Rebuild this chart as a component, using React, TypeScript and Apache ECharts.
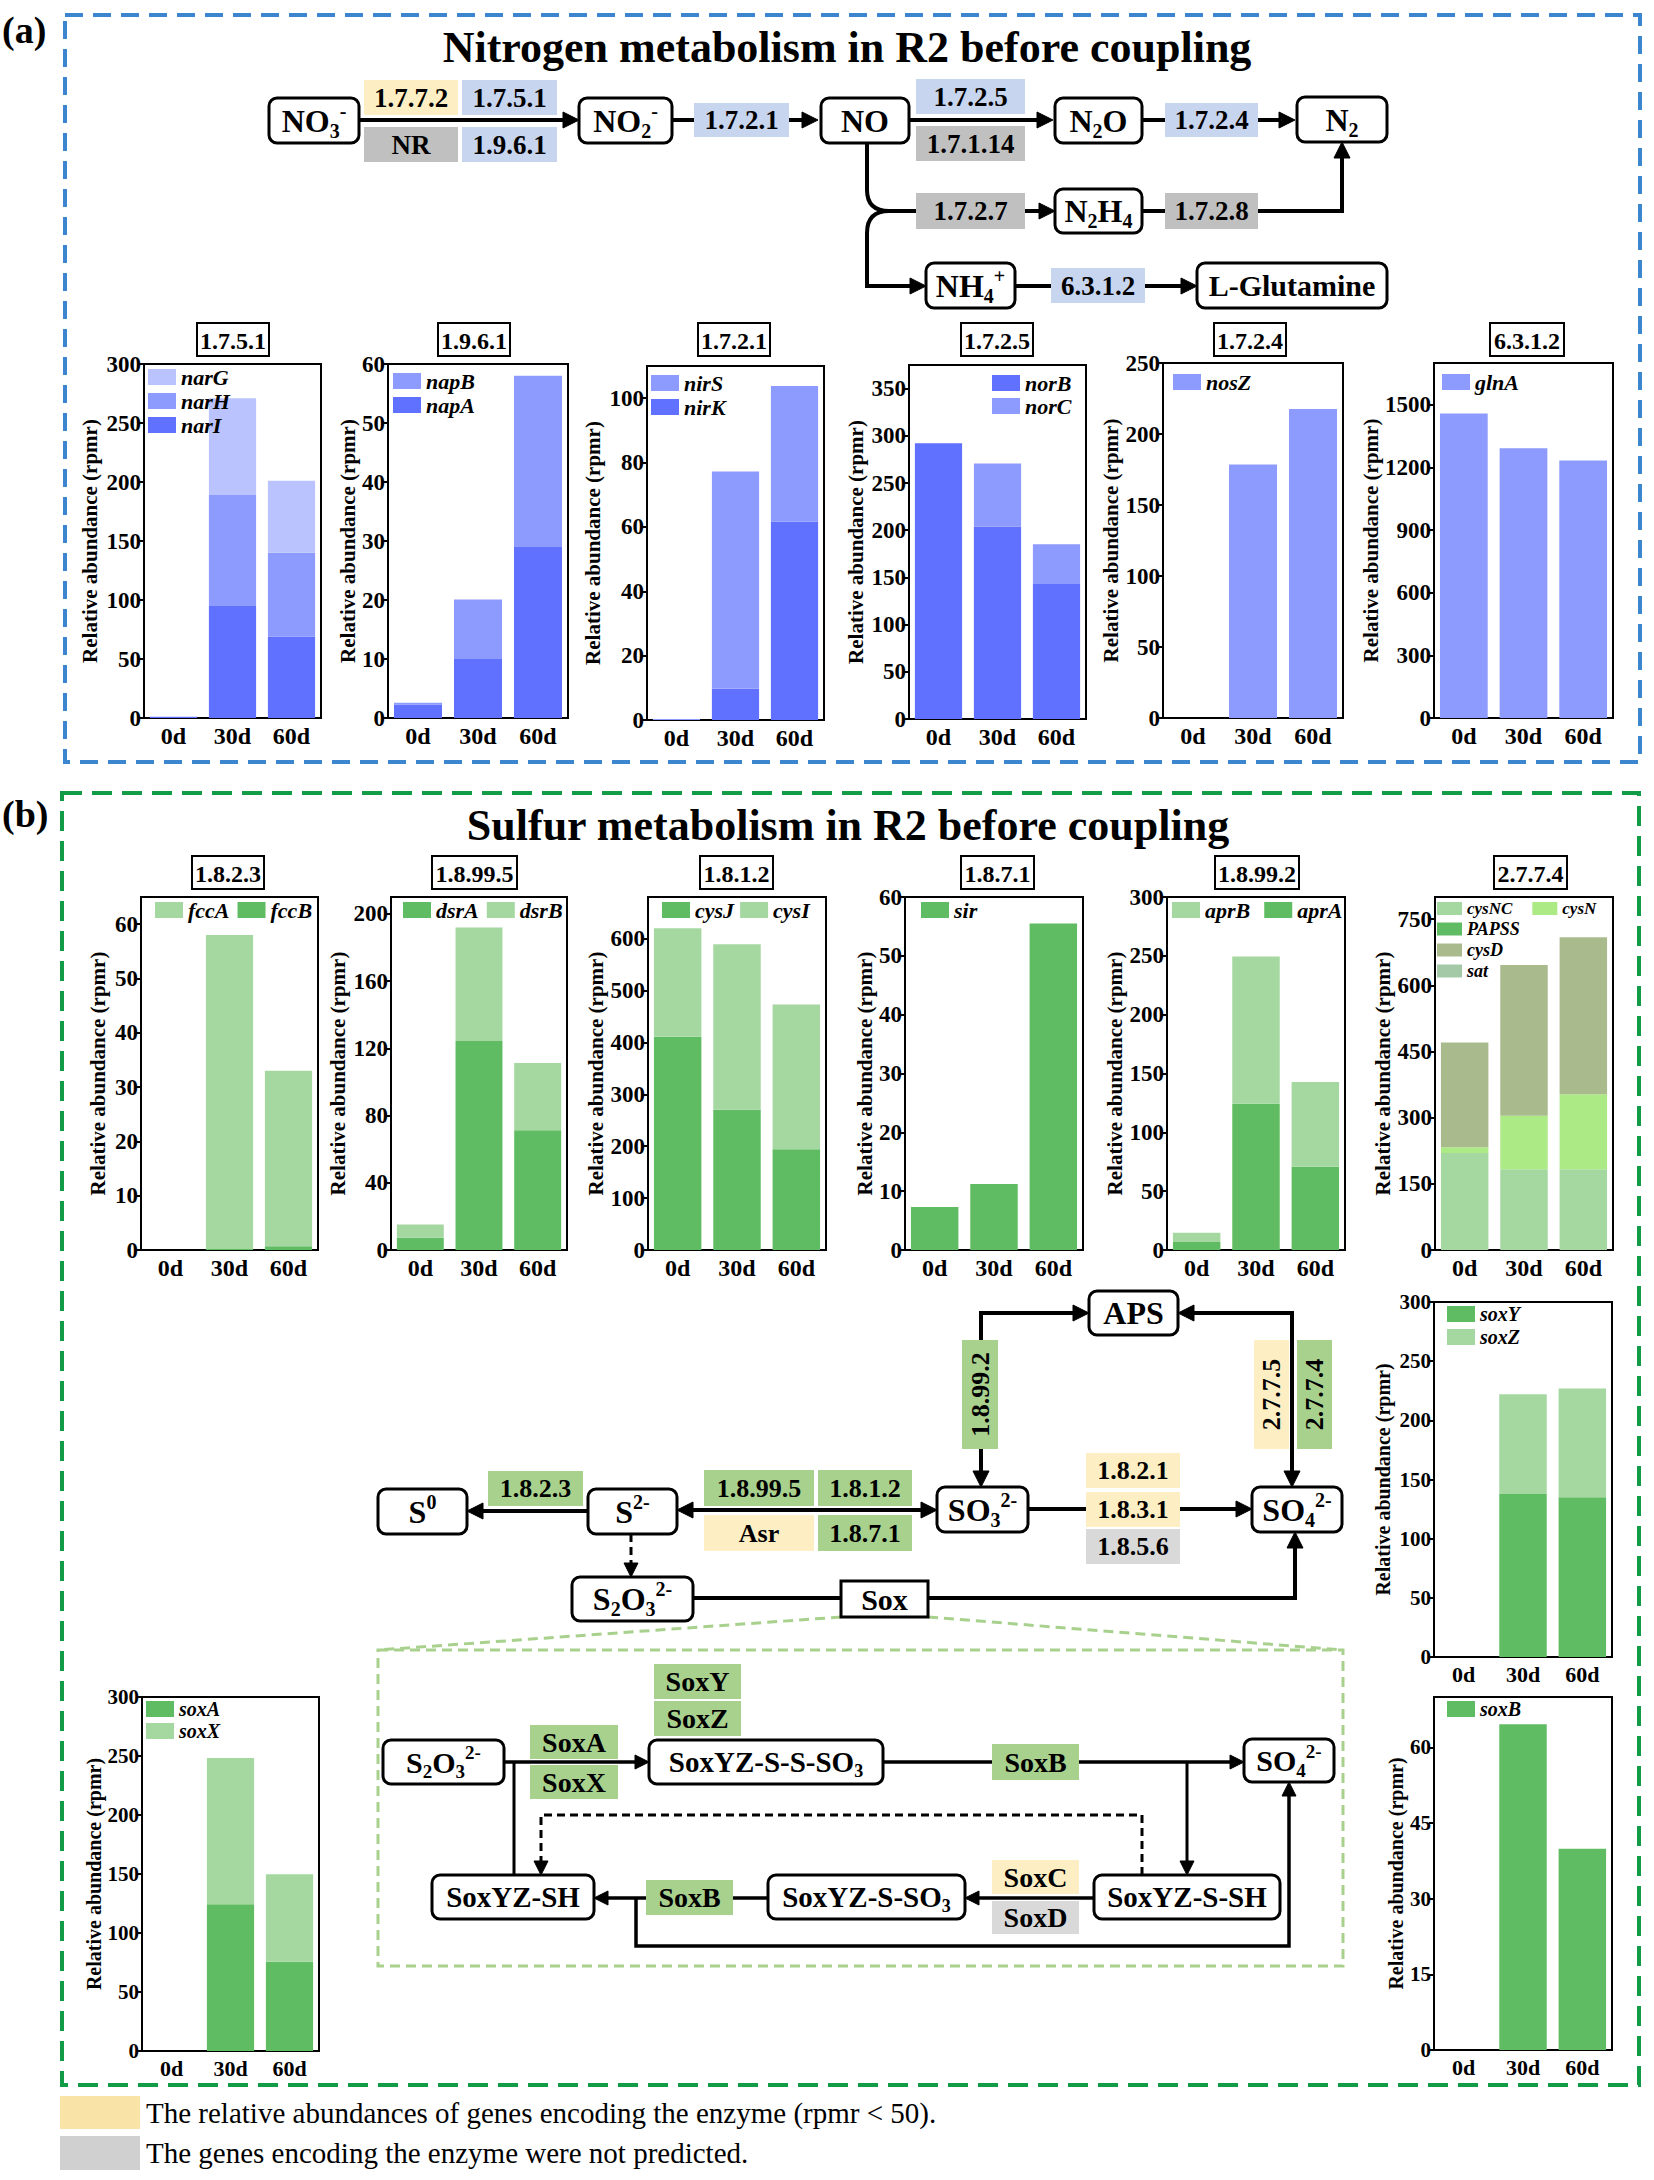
import React, { useEffect, useRef } from 'react';
import * as echarts from 'echarts';

const SERIF = "'Liberation Serif', 'Times New Roman', Times, serif";

// ---------- data ----------
const DAYS = ['0d', '30d', '60d'];
const Y_NAME = 'Relative abundance (rpmr)';

// Nitrogen
const narG = [0, 82, 61];
const narH = [0, 94, 71];
const narI = [1, 95, 69];
const napB = [0.3, 10.1, 29];
const napA = [2.3, 10, 29];
const nirS = [0.3, 67.5, 42.1];
const nirK = [0, 9.7, 61.7];
const norB = [292, 204, 143];
const norC = [0, 66.7, 42];
const nosZ = [0, 178.6, 217.6];
const glnA = [1458, 1292, 1233];
// Sulfur
const fccA = [0, 57.8, 32.3];
const fccB = [0, 0.2, 0.7];
const dsrA = [7.3, 124.3, 71.3];
const dsrB = [7.9, 67.6, 40];
const cysJ = [411, 270, 194];
const cysI = [209, 319, 279];
const sir = [7.3, 11.2, 55.5];
const aprA = [6.8, 124.3, 70.8];
const aprB = [7.9, 125.1, 71.9];
const cysNC = [220, 183, 183];
const cysN = [13, 121, 170];
const PAPSS = [0, 0, 0];
const cysD = [237, 342, 356];
const sat = [0, 0, 0];
const soxY = [0, 137.7, 135];
const soxZ = [0, 84.3, 92];
const soxB = [0, 64.6, 39.9];
const soxA = [0, 124.4, 75.7];
const soxX = [0, 123.8, 74.1];

// ---------- colours ----------
const BD = '#5f71fe', BM = '#8e9bfe', BL = '#bac3fe';
const GD = '#5fbc62', GL = '#a5d8a1', YG = '#acea85', OL = '#a9bb8d', SAT = '#a4c9a7';
const E_BLUE = '#c8d5ef', E_YEL = '#fdefc3', E_GRAY = '#c0c0c0', E_GREEN = '#a9d18e', E_GRAY2 = '#d9d9d9';

// ---------- panel layout ----------
const PANELS: any[] = [
  { t: '1.7.5.1', tb: [197, 323, 269, 356], g: [144, 364, 177, 354], max: 300, iv: 50, gap: 44,
    s: [['narI', narI, BD], ['narH', narH, BM], ['narG', narG, BL]], lg: [{ d: ['narG', 'narH', 'narI'], l: 148, t: 366, gap: 2 }] },
  { t: '1.9.6.1', tb: [438, 323, 510, 356], g: [388, 364, 180, 354], max: 60, iv: 10, gap: 28,
    s: [['napA', napA, BD], ['napB', napB, BM]], lg: [{ d: ['napB', 'napA'], l: 393, t: 370, gap: 2 }] },
  { t: '1.7.2.1', tb: [698, 323, 770, 356], g: [647, 366, 177, 354], max: 110, iv: 20, gap: 44,
    s: [['nirK', nirK, BD], ['nirS', nirS, BM]], lg: [{ d: ['nirS', 'nirK'], l: 651, t: 372, gap: 2 }] },
  { t: '1.7.2.5', tb: [961, 323, 1033, 356], g: [909, 365, 177, 354], max: 375, iv: 50, gap: 43,
    s: [['norB', norB, BD], ['norC', norC, BM]], lg: [{ d: ['norB', 'norC'], l: 992, t: 372, gap: 1 }] },
  { t: '1.7.2.4', tb: [1214, 323, 1286, 356], g: [1163, 363, 180, 355], max: 250, iv: 50, gap: 40,
    s: [['nosZ', nosZ, BM]], lg: [{ d: ['nosZ'], l: 1173, t: 371 }] },
  { t: '6.3.1.2', tb: [1490, 323, 1564, 356], g: [1434, 363, 179, 355], max: 1700, iv: 300, gap: 52,
    s: [['glnA', glnA, BM]], lg: [{ d: ['glnA'], l: 1442, t: 371 }] },

  { t: '1.8.2.3', tb: [192, 856, 264, 889], g: [141, 897, 177, 353], max: 65, iv: 10, gap: 33,
    s: [['fccB', fccB, GD], ['fccA', fccA, GL]], lg: [{ d: ['fccA', 'fccB'], l: 155, t: 899, h: true, gap: 8 }] },
  { t: '1.8.99.5', tb: [432, 856, 517, 889], g: [391, 897, 176, 353], max: 210, iv: 40, gap: 43,
    s: [['dsrA', dsrA, GD], ['dsrB', dsrB, GL]], lg: [{ d: ['dsrA', 'dsrB'], l: 403, t: 899, h: true, gap: 8 }] },
  { t: '1.8.1.2', tb: [700, 856, 773, 889], g: [648, 897, 178, 353], max: 680, iv: 100, gap: 42,
    s: [['cysJ', cysJ, GD], ['cysI', cysI, GL]], lg: [{ d: ['cysJ', 'cysI'], l: 662, t: 899, h: true, gap: 6 }] },
  { t: '1.8.7.1', tb: [961, 856, 1034, 889], g: [905, 897, 178, 353], max: 60, iv: 10, gap: 28,
    s: [['sir', sir, GD]], lg: [{ d: ['sir'], l: 921, t: 899 }] },
  { t: '1.8.99.2', tb: [1215, 856, 1299, 889], g: [1167, 897, 178, 353], max: 300, iv: 50, gap: 41,
    s: [['aprA', aprA, GD], ['aprB', aprB, GL]], lg: [{ d: ['aprB', 'aprA'], l: 1172, t: 899, h: true, gap: 14 }] },
  { t: '2.7.7.4', tb: [1494, 856, 1567, 889], g: [1435, 897, 178, 353], max: 800, iv: 150, gap: 42,
    s: [['cysNC', cysNC, GL], ['cysN', cysN, YG], ['PAPSS', PAPSS, GD], ['cysD', cysD, OL], ['sat', sat, SAT]],
    lg: [{ d: ['cysNC', 'cysN'], l: 1437, t: 900, h: true, fs: 17, iw: 25, ih: 13, gap: 20 },
         { d: ['PAPSS', 'cysD', 'sat'], l: 1437, t: 920, fs: 18, iw: 25, ih: 13, gap: 3 }] },

  { t: null, g: [1434, 1302, 178, 355], max: 300, iv: 50, gap: 41, small: true,
    s: [['soxY', soxY, GD], ['soxZ', soxZ, GL]], lg: [{ d: ['soxY', 'soxZ'], l: 1447, t: 1304, fs: 20, gap: 3 }] },
  { t: null, g: [1434, 1697, 178, 353], max: 70, iv: 15, gap: 24, small: true,
    s: [['soxB', soxB, GD]], lg: [{ d: ['soxB'], l: 1447, t: 1699, fs: 20 }] },
  { t: null, g: [142, 1697, 177, 354], max: 300, iv: 50, gap: 37, small: true,
    s: [['soxA', soxA, GD], ['soxX', soxX, GL]], lg: [{ d: ['soxA', 'soxX'], l: 146, t: 1699, fs: 20, gap: 2 }] },
];

// ---------- helpers for the diagram ----------
function chem(src: string, size: number) {
  let out = '';
  let buf = '';
  let i = 0;
  const flush = () => { if (buf) { out += `{n|${buf}}`; buf = ''; } };
  while (i < src.length) {
    const c = src[i];
    if (c === '_' || c === '^') {
      flush();
      let tok = '';
      if (src[i + 1] === '{') { const j = src.indexOf('}', i + 2); tok = src.slice(i + 2, j); i = j + 1; }
      else { tok = src[i + 1]; i += 2; }
      out += `{${c === '_' ? 'b' : 'p'}|${tok}}`;
    } else { buf += c; i++; }
  }
  flush();
  const base = { fontFamily: SERIF, fontWeight: 'bold', fill: '#000', color: '#000' };
  const sm = Math.round(size * 0.62);
  return {
    text: out,
    rich: {
      n: { ...base, fontSize: size, lineHeight: Math.round(size * 1.25) },
      b: { ...base, fontSize: sm, lineHeight: sm, verticalAlign: 'bottom' },
      p: { ...base, fontSize: sm, lineHeight: sm, verticalAlign: 'top' },
    },
  };
}

function buildGraphics() {
  const els: any[] = [];
  const line = (pts: number[][], w = 4, dash?: number[], color = '#000') =>
    els.push({ type: 'polyline', silent: true, shape: { points: pts },
      style: { stroke: color, lineWidth: w, fill: 'none', ...(dash ? { lineDash: dash } : {}) } });
  const curve = (x1: number, y1: number, cx: number, cy: number, x2: number, y2: number, w = 4) =>
    els.push({ type: 'bezierCurve', silent: true, shape: { x1, y1, cpx1: cx, cpy1: cy, x2, y2 },
      style: { stroke: '#000', lineWidth: w, fill: 'none' } });
  const arrow = (x: number, y: number, dir: string, len = 16, hw = 8) => {
    let pts: number[][] = [];
    if (dir === 'r') pts = [[x, y], [x - len, y - hw], [x - len, y + hw]];
    if (dir === 'l') pts = [[x, y], [x + len, y - hw], [x + len, y + hw]];
    if (dir === 'd') pts = [[x, y], [x - hw, y - len], [x + hw, y - len]];
    if (dir === 'u') pts = [[x, y], [x - hw, y + len], [x + hw, y + len]];
    els.push({ type: 'polygon', silent: true, shape: { points: pts }, style: { fill: '#000', stroke: '#000', lineWidth: 1 } });
  };
  const rect = (x1: number, y1: number, x2: number, y2: number, fill: string, stroke = 'none', lw = 0, r = 0, dash?: number[]) =>
    els.push({ type: 'rect', silent: true, shape: { x: x1, y: y1, width: x2 - x1, height: y2 - y1, r },
      style: { fill, stroke, lineWidth: lw, ...(dash ? { lineDash: dash } : {}) } });
  const text = (x: number, y: number, str: string, size: number, o: any = {}) =>
    els.push({ type: 'text', silent: true, x, y, rotation: o.rot || 0,
      style: { text: str, fontSize: size, fontFamily: SERIF, fontWeight: o.weight || 'bold', fill: '#000',
        align: o.align || 'center', verticalAlign: 'middle' } });
  const node = (x1: number, y1: number, x2: number, y2: number, src: string, size = 32, square = false) => {
    rect(x1, y1, x2, y2, '#fff', '#000', 3, square ? 0 : 8);
    const c = chem(src, size);
    els.push({ type: 'text', silent: true, x: (x1 + x2) / 2, y: (y1 + y2) / 2,
      style: { text: c.text, rich: c.rich, align: 'center', verticalAlign: 'middle', fontSize: size,
        fontFamily: SERIF, fontWeight: 'bold', fill: '#000' } });
  };
  const enz = (x1: number, y1: number, x2: number, y2: number, fill: string, str: string, size = 27, rot = false) => {
    rect(x1, y1, x2, y2, fill);
    text((x1 + x2) / 2, (y1 + y2) / 2, str, size, { rot: rot ? Math.PI / 2 : 0 });
  };

  // frames & headings
  rect(65, 15, 1640, 762, 'none', '#3b86cf', 4, 0, [18, 10]);
  rect(62, 793, 1639, 2085, 'none', '#139c48', 4, 0, [20, 10]);
  text(2, 30, '(a)', 38, { align: 'left' });
  text(2, 814, '(b)', 38, { align: 'left' });
  text(847, 47, 'Nitrogen metabolism in R2 before coupling', 44);
  text(848, 825, 'Sulfur metabolism in R2 before coupling', 44);

  // chart title boxes
  PANELS.forEach((p) => {
    if (!p.t) return;
    const [x1, y1, x2, y2] = p.tb;
    rect(x1, y1, x2, y2, '#fff', '#000', 2);
    text((x1 + x2) / 2, (y1 + y2) / 2 + 1, p.t, 24);
  });

  // ----- nitrogen pathway -----
  line([[359, 120], [571, 120]]); arrow(579, 120, 'r');
  line([[672, 120], [810, 120]]); arrow(818, 120, 'r');
  line([[909, 120], [1045, 120]]); arrow(1053, 120, 'r');
  line([[1142, 120], [1287, 120]]); arrow(1295, 120, 'r');
  line([[867, 143], [867, 190]]);
  curve(867, 190, 867, 211, 889, 211);
  line([[889, 211], [1047, 211]]); arrow(1055, 211, 'r');
  line([[1142, 211], [1342, 211], [1342, 150]]); arrow(1342, 142, 'u');
  curve(889, 211, 867, 211, 867, 233);
  line([[867, 233], [867, 286], [918, 286]]); arrow(926, 286, 'r');
  line([[1015, 286], [1189, 286]]); arrow(1197, 286, 'r');

  enz(364, 80, 458, 115, E_YEL, '1.7.7.2');
  enz(462, 80, 557, 115, E_BLUE, '1.7.5.1');
  enz(364, 127, 458, 162, E_GRAY, 'NR');
  enz(462, 127, 557, 162, E_BLUE, '1.9.6.1');
  enz(694, 103, 789, 137, E_BLUE, '1.7.2.1');
  enz(916, 79, 1025, 114, E_BLUE, '1.7.2.5');
  enz(916, 126, 1025, 161, E_GRAY, '1.7.1.14');
  enz(1165, 103, 1258, 137, E_BLUE, '1.7.2.4');
  enz(916, 193, 1025, 229, E_GRAY, '1.7.2.7');
  enz(1165, 193, 1258, 229, E_GRAY, '1.7.2.8');
  enz(1051, 268, 1145, 303, E_BLUE, '6.3.1.2');

  node(269, 98, 359, 143, 'NO_3^-');
  node(579, 98, 672, 143, 'NO_2^-');
  node(821, 98, 909, 143, 'NO');
  node(1055, 98, 1142, 143, 'N_2O');
  node(1297, 97, 1387, 142, 'N_2');
  node(1055, 189, 1142, 233, 'N_2H_4');
  node(926, 263, 1015, 308, 'NH_4^+');
  node(1197, 263, 1387, 308, 'L-Glutamine', 30);

  // ----- sulfur pathway -----
  line([[981, 1479], [981, 1313], [1081, 1313]]); arrow(1089, 1313, 'r'); arrow(981, 1487, 'd');
  line([[1186, 1313], [1292, 1313], [1292, 1479]]); arrow(1178, 1313, 'l'); arrow(1292, 1487, 'd');
  line([[588, 1511], [475, 1511]]); arrow(467, 1511, 'l');
  line([[685, 1510], [929, 1510]]); arrow(677, 1510, 'l'); arrow(937, 1510, 'r');
  line([[1028, 1509], [1244, 1509]]); arrow(1252, 1509, 'r');
  line([[631, 1534], [631, 1566]], 3, [8, 5]); arrow(631, 1577, 'd', 14, 7);
  line([[693, 1598], [841, 1598]]);
  line([[928, 1598], [1295, 1598], [1295, 1540]]); arrow(1295, 1532, 'u');
  line([[841, 1617], [378, 1650]], 3, [10, 6], '#a9d18e');
  line([[928, 1617], [1343, 1650]], 3, [10, 6], '#a9d18e');
  rect(378, 1650, 1343, 1966, 'none', '#a9d18e', 3, 0, [10, 6]);

  enz(962, 1340, 998, 1449, E_GREEN, '1.8.99.2', 26, true);
  enz(1254, 1340, 1289, 1449, E_YEL, '2.7.7.5', 26, true);
  enz(1297, 1340, 1332, 1449, E_GREEN, '2.7.7.4', 26, true);
  enz(488, 1471, 583, 1506, E_GREEN, '1.8.2.3', 26);
  enz(704, 1470, 814, 1506, E_GREEN, '1.8.99.5', 26);
  enz(818, 1470, 912, 1506, E_GREEN, '1.8.1.2', 26);
  enz(704, 1515, 814, 1551, E_YEL, 'Asr', 26);
  enz(818, 1515, 912, 1551, E_GREEN, '1.8.7.1', 26);
  enz(1086, 1453, 1180, 1488, E_YEL, '1.8.2.1', 26);
  enz(1086, 1492, 1180, 1527, E_YEL, '1.8.3.1', 26);
  enz(1086, 1529, 1180, 1564, E_GRAY2, '1.8.5.6', 26);

  node(1089, 1291, 1178, 1335, 'APS');
  node(378, 1489, 467, 1534, 'S^0');
  node(588, 1489, 677, 1534, 'S^{2-}');
  node(937, 1487, 1028, 1532, 'SO_3^{2-}');
  node(1252, 1487, 1342, 1532, 'SO_4^{2-}');
  node(572, 1577, 693, 1621, 'S_2O_3^{2-}');
  node(841, 1581, 928, 1617, 'Sox', 30, true);

  // ----- Sox inset -----
  line([[504, 1762], [641, 1762]], 3.5); arrow(649, 1762, 'r', 14, 7);
  line([[883, 1762], [1236, 1762]], 3.5); arrow(1244, 1762, 'r', 14, 7);
  line([[1187, 1762], [1187, 1867]], 3); arrow(1187, 1875, 'd', 14, 7);
  line([[1094, 1898], [973, 1898]], 3.5); arrow(965, 1898, 'l', 14, 7);
  line([[768, 1898], [602, 1898]], 3.5); arrow(594, 1898, 'l', 14, 7);
  line([[1142, 1875], [1142, 1815], [541, 1815], [541, 1866]], 3, [8, 5]); arrow(541, 1875, 'd', 14, 7);
  line([[514, 1762], [514, 1875]], 3);
  line([[636, 1898], [636, 1946], [1289, 1946], [1289, 1790]], 3.5); arrow(1289, 1782, 'u', 14, 7);

  enz(530, 1725, 618, 1759, E_GREEN, 'SoxA', 28);
  enz(530, 1765, 618, 1799, E_GREEN, 'SoxX', 28);
  enz(654, 1664, 741, 1699, E_GREEN, 'SoxY', 28);
  enz(654, 1701, 741, 1736, E_GREEN, 'SoxZ', 28);
  enz(992, 1744, 1079, 1780, E_GREEN, 'SoxB', 28);
  enz(992, 1860, 1079, 1894, E_YEL, 'SoxC', 28);
  enz(992, 1901, 1079, 1934, E_GRAY2, 'SoxD', 28);
  enz(646, 1880, 733, 1915, E_GREEN, 'SoxB', 28);

  node(383, 1740, 504, 1784, 'S_2O_3^{2-}', 30);
  node(649, 1740, 883, 1784, 'SoxYZ-S-S-SO_3', 29);
  node(1244, 1739, 1334, 1782, 'SO_4^{2-}', 30);
  node(1094, 1875, 1280, 1919, 'SoxYZ-S-SH', 29);
  node(768, 1875, 965, 1919, 'SoxYZ-S-SO_3', 29);
  node(432, 1875, 594, 1919, 'SoxYZ-SH', 29);

  // ----- footnote legend -----
  rect(60, 2096, 140, 2129, '#f9e3a7');
  rect(60, 2136, 140, 2170, '#d0d0d0');
  text(146, 2113, 'The relative abundances of genes encoding the enzyme (rpmr < 50).', 29, { align: 'left', weight: 'normal' });
  text(146, 2153, 'The genes encoding the enzyme were not predicted.', 29, { align: 'left', weight: 'normal' });

  return els;
}

function buildOption() {
  const grid: any[] = [], xAxis: any[] = [], yAxis: any[] = [], series: any[] = [], legend: any[] = [];
  PANELS.forEach((p, i) => {
    const [l, t, w, h] = p.g;
    const fsTick = p.small ? 21 : 23;
    grid.push({ left: l, top: t, width: w, height: h, show: true, borderColor: '#000', borderWidth: 2,
      backgroundColor: 'transparent', containLabel: false, outerBoundsMode: 'none' });
    xAxis.push({ gridIndex: i, type: 'category', data: DAYS,
      axisTick: { show: false },
      axisLine: { lineStyle: { color: '#000', width: 2 } },
      axisLabel: { fontFamily: SERIF, fontWeight: 'bold', fontSize: p.small ? 22 : 24, color: '#000', margin: 6 } });
    const yl: any = { fontFamily: SERIF, fontWeight: 'bold', fontSize: fsTick, color: '#000', margin: 3,
      formatter: (v: number) => String(v) };
    if (p.max % p.iv !== 0) yl.showMaxLabel = false;
    yAxis.push({ gridIndex: i, type: 'value', min: 0, max: p.max, interval: p.iv,
      splitLine: { show: false },
      axisLine: { show: true, lineStyle: { color: '#000', width: 2 } },
      axisTick: { show: true, length: 5, lineStyle: { color: '#000', width: 2 } },
      axisLabel: yl,
      name: Y_NAME, nameLocation: 'middle', nameGap: p.gap,
      nameTextStyle: { fontFamily: SERIF, fontWeight: 'bold', fontSize: p.small ? 20 : 21, color: '#000' } });
    p.s.forEach(([name, data, color]: any) => {
      series.push({ type: 'bar', name, data, xAxisIndex: i, yAxisIndex: i, stack: 'st' + i,
        barWidth: '80%', itemStyle: { color }, emphasis: { disabled: true } });
    });
    p.lg.forEach((lg: any) => {
      legend.push({ data: lg.d, left: lg.l, top: lg.t, orient: lg.h ? 'horizontal' : 'vertical',
        itemWidth: lg.iw || 28, itemHeight: lg.ih || 16, itemGap: lg.gap ?? 2, padding: 0,
        icon: 'rect', selectedMode: false,
        textStyle: { fontFamily: SERIF, fontStyle: 'italic', fontWeight: 'bold', fontSize: lg.fs || 22, color: '#000' } });
    });
  });
  return {
    animation: false,
    backgroundColor: '#fff',
    grid, xAxis, yAxis, series, legend,
    graphic: { elements: buildGraphics() },
  };
}

export default function App() {
  const ref = useRef<HTMLDivElement>(null);
  useEffect(() => {
    if (!ref.current) return;
    const chart = echarts.init(ref.current, undefined, { renderer: 'svg', width: 1654, height: 2180 });
    chart.setOption(buildOption() as any);
    return () => chart.dispose();
  }, []);
  return (
    <div ref={ref} style={{ position: 'absolute', left: 0, top: 0, width: 1654, height: 2180, background: '#fff' }} />
  );
}
